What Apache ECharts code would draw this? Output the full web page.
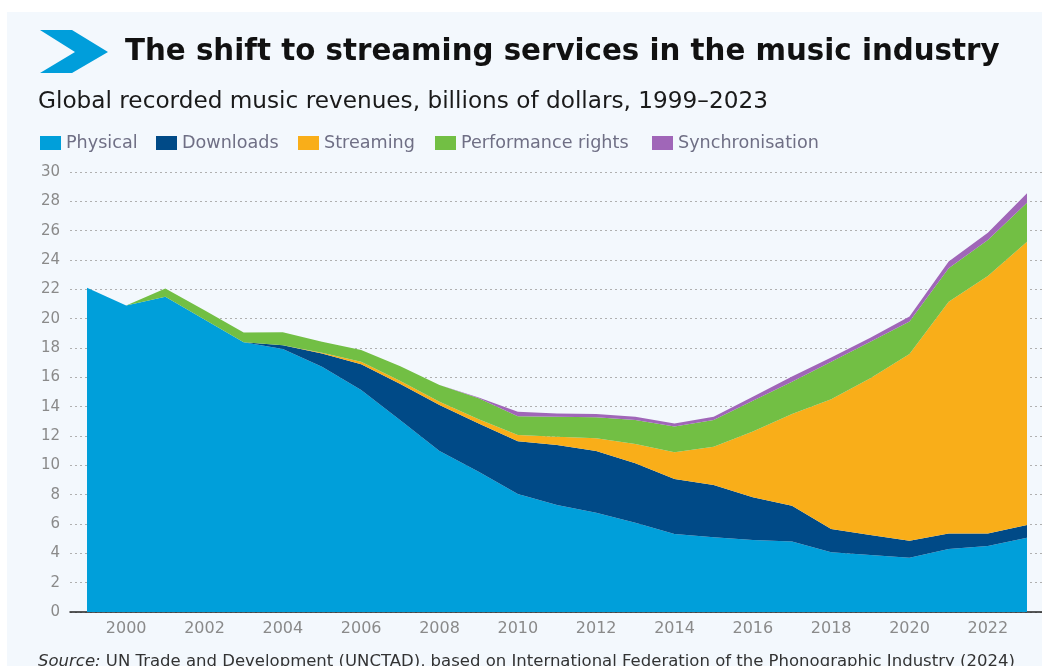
<!DOCTYPE html>
<html>
<head>
<meta charset="utf-8">
<script src="https://cdn.jsdelivr.net/npm/echarts@6/dist/echarts.min.js"></script>
<style>
html,body{margin:0;padding:0;background:#ffffff;}
#chart{width:1042px;height:666px;}
</style>
</head>
<body>
<div id="chart"></div>
<script>
var years = ['1999','2000','2001','2002','2003','2004','2005','2006','2007','2008','2009','2010','2011','2012','2013','2014','2015','2016','2017','2018','2019','2020','2021','2022','2023'];
var physical = [22.1,20.9,21.5,19.95,18.4,17.93,16.73,15.14,13.07,10.98,9.57,8.05,7.3,6.77,6.09,5.32,5.09,4.91,4.8,4.07,3.89,3.7,4.3,4.5,5.07];
var downloads = [0,0,0,0,0,0.25,0.9,1.76,2.48,3.13,3.29,3.6,4.09,4.21,4.05,3.75,3.57,2.91,2.45,1.59,1.36,1.16,1.06,0.86,0.86];
var streaming = [0,0,0,0,0,0,0.05,0.17,0.2,0.23,0.28,0.41,0.56,0.86,1.31,1.82,2.61,4.48,6.25,8.84,10.68,12.73,15.8,17.55,19.32];
var performanceRights = [0,0,0.55,0.62,0.66,0.89,0.75,0.79,1.0,1.14,1.43,1.29,1.37,1.43,1.64,1.75,1.82,2.11,2.2,2.57,2.5,2.21,2.27,2.45,2.66];
var synchronisation = [0,0,0,0,0,0,0,0,0,0,0.05,0.3,0.22,0.23,0.23,0.22,0.23,0.27,0.35,0.29,0.27,0.34,0.46,0.5,0.64];
var seriesNames = ['Physical','Downloads','Streaming','Performance rights','Synchronisation'];
var seriesColors = ['#009FDA','#004A87','#F9AE19','#72BF44','#A066B8'];
var seriesData = [physical, downloads, streaming, performanceRights, synchronisation];
var yTicks = {min:0, max:30, interval:2};

var titleText = 'The shift to streaming services in the music industry';
var subtitleText = 'Global recorded music revenues, billions of dollars, 1999\u20132023';
var sourceText = 'UN Trade and Development (UNCTAD), based on International Federation of the Phonographic Industry (2024)';

var chart = echarts.init(document.getElementById('chart'), null, {renderer:'canvas'});
var legendLefts = [40,156,298,435,652];
var legendColor = '#6f6f85';

var option = {
  animation:false,
  backgroundColor:'#ffffff',
  graphic:[
    {type:'rect', z:-10, silent:true, shape:{x:7,y:12,width:1035,height:654}, style:{fill:'#F3F8FD'}},
    {type:'polygon', shape:{points:[[40,30],[72,30],[108,52],[72,73],[40,73],[75,52]]}, style:{fill:'#009EDB'}}
  ],
  title:[
    {text:titleText, left:125, top:38, padding:0,
     textStyle:{fontFamily:'DejaVu Sans', fontWeight:'bold', fontSize:29.3, color:'#111111'}},
    {text:subtitleText, left:38, top:90, padding:0,
     textStyle:{fontFamily:'DejaVu Sans', fontWeight:'normal', fontSize:23.2, color:'#1a1a1a'}},
    {text:'{i|Source:} ' + sourceText, left:38, top:653, padding:0,
     textStyle:{fontFamily:'DejaVu Sans', fontWeight:'normal', fontSize:16.5, color:'#333333',
       rich:{i:{fontFamily:'DejaVu Sans', fontStyle:'italic', fontWeight:'normal', fontSize:16.5, color:'#333333'}}}}
  ],
  legend: seriesNames.map(function(n,i){
    return {data:[n], left:legendLefts[i], top:134, padding:0, itemGap:0,
      itemWidth:21, itemHeight:14, icon:'rect',
      textStyle:{fontFamily:'DejaVu Sans', fontSize:17.6, color:legendColor}};
  }),
  grid:[
    {left:70, right:0, top:172, bottom:54},
    {left:87, right:15, top:172, bottom:54}
  ],
  xAxis:[
    {gridIndex:0, type:'value', min:0, max:1, axisLine:{show:true, onZero:false, lineStyle:{color:'#222222', width:1.5}},
     axisTick:{show:false}, axisLabel:{show:false}, splitLine:{show:false}},
    {gridIndex:1, type:'category', data:years, boundaryGap:false,
     axisLine:{show:false}, axisTick:{show:false}, splitLine:{show:false},
     axisLabel:{interval:function(i,v){return Number(v)%2===0;}, margin:9,
       fontFamily:'DejaVu Sans', fontSize:16, color:'#8a8a8a'}}
  ],
  yAxis:[
    {gridIndex:0, type:'value', min:yTicks.min, max:yTicks.max, interval:yTicks.interval,
     axisLine:{show:false}, axisTick:{show:false},
     axisLabel:{margin:10, fontFamily:'DejaVu Sans', fontSize:15, color:'#8a8a8a'},
     splitLine:{show:true, lineStyle:{color:'#b0b0b0', width:1, type:[2,3]}}},
    {gridIndex:1, type:'value', min:yTicks.min, max:yTicks.max, interval:yTicks.interval, show:false, splitLine:{show:false}}
  ],
  series: seriesNames.map(function(n,i){
    return {name:n, type:'line', xAxisIndex:1, yAxisIndex:1, stack:'total',
      data:seriesData[i], symbol:'none', showSymbol:false,
      lineStyle:{width:0}, itemStyle:{color:seriesColors[i]},
      areaStyle:{color:seriesColors[i], opacity:1}, z:2};
  })
};
chart.setOption(option);
</script>
</body>
</html>
